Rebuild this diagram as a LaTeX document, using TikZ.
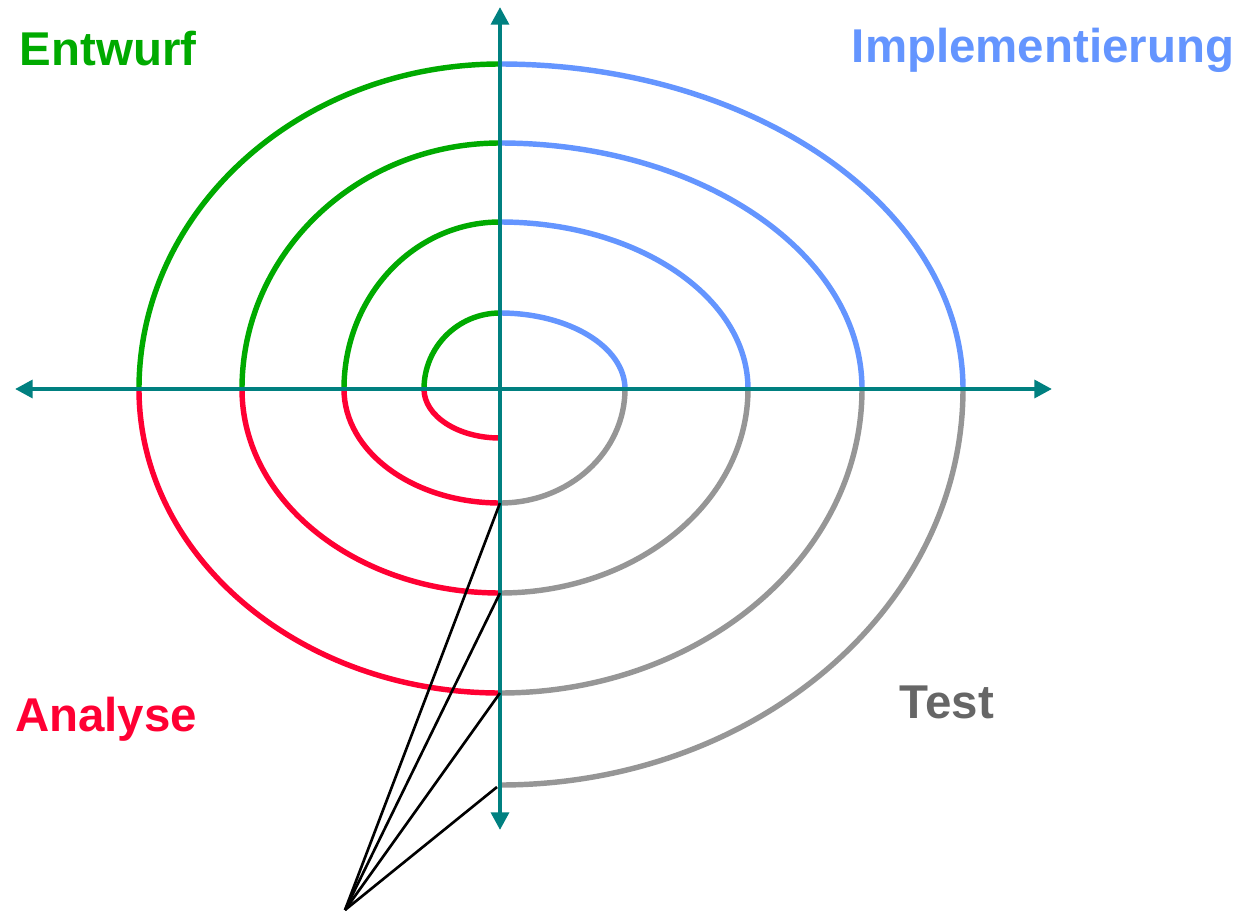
\documentclass[tikz,border=0pt]{standalone}
\usepackage{fontspec}
\setmainfont{Liberation Sans}
\usetikzlibrary{arrows.meta}

\definecolor{entwurfgreen}{RGB}{0,170,0}
\definecolor{implblue}{RGB}{100,149,255}
\definecolor{analysered}{RGB}{255,0,51}
\definecolor{testgray}{RGB}{150,150,150}
\definecolor{testtext}{RGB}{102,102,102}
\definecolor{axisteal}{RGB}{0,128,128}

\begin{document}
\begin{tikzpicture}[
    x=0.02cm, y=0.02cm,
    spiralarc/.style={line width=3.1pt, draw=#1},
    axisline/.style={line width=2.4pt, draw=axisteal, {Triangle[length=10pt, width=10pt]}-{Triangle[length=10pt, width=10pt]}},
    pointer/.style={line width=1.5pt, draw=black},
    phase/.style={font=\fontsize{27}{30}\selectfont\bfseries, text=#1, inner sep=0pt},
]
\useasboundingbox (-500,-528) rectangle (740,389);

% spiral, one quarter per phase
\foreach \a/\b in {76/49, 156/114, 258/204, 361/304}
    \draw[spiralarc=analysered] (0,-\b) arc[start angle=270, end angle=180, x radius=\a, y radius=\b];
\foreach \a/\b in {76/76, 156/167, 258/246, 361/325}
    \draw[spiralarc=entwurfgreen] (-\a,0) arc[start angle=180, end angle=90, x radius=\a, y radius=\b];
\foreach \a/\b in {125/76, 248/167, 362/246, 463/325}
    \draw[spiralarc=implblue] (0,\b) arc[start angle=90, end angle=0, x radius=\a, y radius=\b];
\foreach \a/\b in {125/114, 248/204, 362/304, 463/396}
    \draw[spiralarc=testgray] (\a,0) arc[start angle=0, end angle=-90, x radius=\a, y radius=\b];

% axes
\coordinate (left) at (-485,0);
\coordinate (right) at (552,0);
\coordinate (top) at (0,382);
\coordinate (bottom) at (0,-441);
\draw[axisline] (left) -- (right);
\draw[axisline] (bottom) -- (top);

% pointer lines
\coordinate (tip) at (-155,-521);
\coordinate (c1) at (0,-114);
\coordinate (c2) at (0,-204);
\coordinate (c3) at (0,-304);
\coordinate (c4) at (-3,-398);
\foreach \c in {c1,c2,c3,c4}
    \draw[pointer] (tip) -- (\c);

% labels
\node[phase=entwurfgreen] (entwurf) at (-392,340) {Entwurf};
\node[phase=implblue] (impl) at (543,339) {Implementierung};
\node[phase=analysered] (analyse) at (-394,-330) {Analyse};
\node[phase=testtext] (test) at (447,-313) {Test};
\end{tikzpicture}
\end{document}
